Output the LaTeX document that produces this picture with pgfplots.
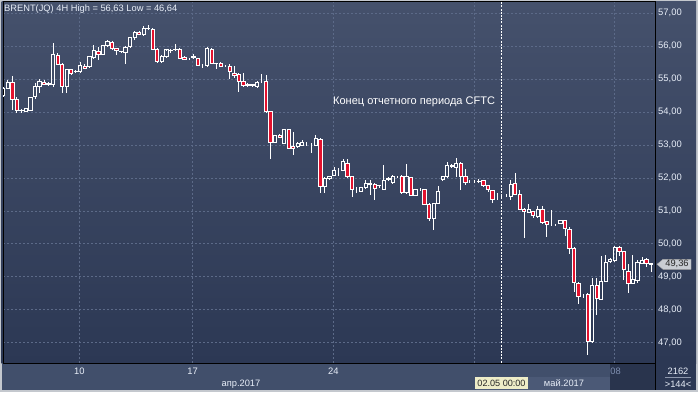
\documentclass[border=0pt]{standalone}
\usepackage{pgfplots}
\pgfplotsset{compat=1.18}
\usepackage{pgfplotstable}
\usepackage{fontspec}
\setmainfont{Liberation Sans}
\definecolor{bgtop}{HTML}{45516C}
\definecolor{bgbot}{HTML}{2C3854}
\definecolor{band}{HTML}{414F6B}
\definecolor{bandlight}{HTML}{4B5976}
\definecolor{boxdark}{HTML}{29344D}
\definecolor{gridc}{HTML}{5C6A88}
\definecolor{candred}{HTML}{E3122E}
\definecolor{labc}{HTML}{E8EEF8}
\definecolor{framec}{HTML}{C4C8CE}
\definecolor{tagc}{HTML}{C9CDD3}
\definecolor{yellowbox}{HTML}{EEEDC8}
\definecolor{dimlab}{HTML}{7F8FB0}

\pgfplotstableread{
i o h l c
0 54.49 54.75 54.45 54.73
1 54.72 54.98 54.70 54.90
2 54.90 55.10 54.06 54.37
3 54.37 54.45 53.97 54.06
4 54.06 54.10 53.97 54.05
5 54.03 54.12 54.00 54.10
6 54.06 54.47 54.03 54.45
7 54.47 54.87 54.40 54.79
8 54.79 55.00 54.59 54.92
9 54.91 54.97 54.82 54.85
10 54.85 54.90 54.80 54.88
11 54.84 56.09 54.77 55.75
12 55.73 55.80 55.42 55.45
13 55.45 55.50 54.59 54.77
14 54.77 55.30 54.57 55.28
15 55.28 55.30 55.12 55.18
16 55.22 55.27 55.20 55.24
17 55.23 55.51 55.22 55.43
18 55.40 55.45 55.30 55.33
19 55.38 55.70 55.33 55.68
20 55.67 56.04 55.60 55.86
21 55.85 55.99 55.58 55.76
22 55.76 56.04 55.72 56.01
23 56.01 56.18 55.98 56.14
24 56.12 56.15 55.90 55.94
25 55.92 55.95 55.73 55.86
26 55.84 55.86 55.80 55.83
27 55.82 56.00 55.45 55.97
28 55.99 56.28 55.95 56.26
29 56.26 56.45 56.20 56.41
30 56.43 56.45 56.35 56.37
31 56.36 56.62 56.32 56.54
32 56.54 56.63 56.50 56.53
33 56.51 56.55 55.89 55.91
34 55.91 55.95 55.50 55.53
35 55.53 55.73 55.50 55.70
36 55.68 55.90 55.66 55.89
37 55.86 55.92 55.80 55.87
38 55.89 56.07 55.85 55.90
39 55.91 55.95 55.60 55.63
40 55.65 55.70 55.57 55.60
41 55.61 55.65 55.57 55.61
42 55.65 55.76 55.62 55.68
43 55.63 55.65 55.40 55.43
44 55.43 55.45 55.35 55.43
45 55.43 55.97 55.38 55.94
46 55.91 55.96 55.45 55.48
47 55.48 55.50 55.30 55.47
48 55.48 55.52 55.37 55.40
49 55.41 55.43 55.36 55.41
50 55.38 55.46 55.00 55.23
51 55.18 55.40 55.05 55.10
52 55.13 55.20 54.60 54.92
53 54.92 55.20 54.75 54.82
54 54.84 54.87 54.77 54.80
55 54.84 54.86 54.75 54.80
56 54.77 54.95 54.75 54.91
57 54.92 55.16 54.88 54.92
58 54.92 55.13 53.98 54.01
59 54.01 54.03 52.57 53.08
60 53.08 53.32 53.05 53.30
61 53.30 53.35 53.20 53.23
62 53.05 53.50 53.02 53.46
63 53.46 53.50 52.88 52.90
64 52.95 53.40 52.70 52.90
65 52.95 53.08 52.92 53.05
66 53.00 53.15 52.97 53.07
67 53.05 53.10 52.98 53.05
68 53.02 53.05 52.77 53.02
69 53.00 53.31 52.97 53.20
70 53.18 53.20 51.55 51.73
71 51.73 52.02 51.55 51.99
72 51.97 52.06 51.95 52.04
73 52.09 52.34 52.05 52.24
74 52.24 52.30 52.07 52.24
75 52.24 52.57 52.20 52.49
76 52.44 52.57 52.00 52.04
77 52.04 52.06 51.41 51.64
78 51.58 51.73 51.53 51.58
79 51.60 51.72 51.56 51.70
80 51.70 51.94 51.68 51.84
81 51.84 51.94 51.48 51.79
82 51.81 51.86 51.33 51.69
83 51.76 51.80 51.70 51.78
84 51.66 52.39 51.63 51.92
85 51.95 52.02 51.92 51.99
86 51.86 52.08 51.84 52.06
87 52.04 52.07 52.00 52.04
88 52.06 52.08 51.52 51.55
89 51.55 52.44 51.52 52.04
90 52.02 52.04 51.45 51.48
91 51.48 51.67 51.45 51.64
92 51.66 51.70 51.60 51.66
93 51.64 51.66 51.18 51.21
94 51.21 51.23 50.70 50.78
95 50.78 51.25 50.42 51.23
96 51.23 51.76 51.20 51.60
97 51.95 52.06 51.94 52.05
98 52.04 52.49 52.00 52.39
99 52.39 52.42 52.30 52.34
100 52.32 52.60 52.02 52.44
101 52.44 52.49 51.64 52.04
102 52.04 52.26 51.80 51.87
103 51.89 51.93 51.85 51.89
104 51.89 51.94 51.85 51.89
105 51.90 51.96 51.84 51.88
106 51.92 51.95 51.73 51.76
107 51.76 51.78 51.56 51.64
108 51.61 51.63 51.23 51.35
109 51.39 51.55 51.33 51.39
110 51.43 51.47 51.39 51.43
111 51.46 51.52 51.42 51.46
112 51.45 51.94 51.33 51.81
113 51.84 52.14 51.48 51.50
114 51.50 51.65 51.02 51.05
115 51.05 51.08 50.17 50.98
116 50.96 51.21 50.93 51.03
117 50.98 51.00 50.80 50.85
118 50.83 51.15 50.80 51.03
119 51.03 51.15 50.62 50.64
120 50.67 50.70 50.20 50.60
121 50.57 51.03 50.53 50.57
122 50.57 50.60 50.53 50.57
123 50.62 50.72 50.60 50.70
124 50.70 50.72 50.24 50.47
125 50.44 50.50 49.68 49.87
126 49.87 49.90 48.55 48.83
127 48.80 48.83 48.18 48.40
128 48.42 48.47 48.35 48.42
129 48.45 48.52 46.64 47.03
130 47.03 48.95 46.98 48.75
131 48.75 48.95 47.84 48.35
132 48.32 49.63 48.30 48.87
133 48.87 49.65 48.85 49.45
134 49.46 49.56 49.42 49.53
135 49.49 49.93 49.47 49.90
136 49.90 49.93 49.62 49.76
137 49.76 49.78 48.90 49.21
138 49.16 49.40 48.50 48.80
139 48.80 49.66 48.78 48.93
140 48.88 49.50 48.82 49.44
141 49.41 49.59 49.39 49.51
142 49.54 49.58 49.29 49.39
143 49.39 49.41 49.16 49.36
}\candles

\begin{document}
\begin{tikzpicture}[x=1pt,y=1pt]
% window and panel backgrounds
\fill[framec] (-3,-29) rectangle (695,363);
\shade[top color=bgtop, bottom color=bgbot] (-1.5,0) rectangle (693,361.5);
\fill[band] (-1.5,-27) rectangle (652,0);
\fill[bgbot] (652,-27) rectangle (693,0);
\fill[bandlight] (473,-27) rectangle (607,-13.7);
\fill[boxdark] (607,-27) rectangle (652,0);

\begin{axis}[
  at={(0pt,0pt)}, anchor=south west,
  scale only axis, width=652pt, height=361.5pt,
  xmin=-0.07, xmax=143.86, ymin=46.384, ymax=57.358,
  axis line style={black, line width=1pt},
  ytick={47,48,...,57},
  xtick={16.8,41.8,72.85,103.97,134.9},
  xticklabels={10,17,24,{},{}},
  major tick length=0pt,
  xmajorgrids, ymajorgrids,
  grid style={gridc, line width=0.8pt, dash pattern=on 2pt off 2pt},
  yticklabel pos=right,
  yticklabel style={anchor=west, inner sep=0pt, xshift=3pt,
    font=\fontsize{9.4}{10}\selectfont, text=labc,
    /pgf/number format/fixed, /pgf/number format/fixed zerofill,
    /pgf/number format/precision=2, /pgf/number format/use comma,
    /pgf/number format/assume math mode=true},
  xticklabel style={anchor=base, inner sep=0pt, yshift=-11pt,
    font=\fontsize{9.4}{10}\selectfont, text=labc,
    /pgf/number format/assume math mode=true},
  clip=true,
]
\addplot[white, line width=0.9pt, dash pattern=on 2pt off 1.2pt] coordinates {(110.0,46.3) (110.0,57.4)};
% lower wicks
\addplot[draw=none, mark=none,
  error bars/.cd, y dir=minus, y explicit, error mark=none,
  error bar style={draw=white, line width=1pt, solid}]
  table[x=i, y expr={min(\thisrow{o},\thisrow{c})},
        y error minus expr={min(\thisrow{o},\thisrow{c})-\thisrow{l}}] {\candles};
% upper wicks
\addplot[draw=none, mark=none,
  error bars/.cd, y dir=plus, y explicit, error mark=none,
  error bar style={draw=white, line width=1pt, solid}]
  table[x=i, y expr={max(\thisrow{o},\thisrow{c})},
        y error plus expr={\thisrow{h}-max(\thisrow{o},\thisrow{c})}] {\candles};
\end{axis}

\begin{axis}[
  at={(0pt,0pt)}, anchor=south west,
  scale only axis, width=652pt, height=361.5pt,
  xmin=-0.07, xmax=143.86, ymin=46.384, ymax=57.358,
  hide axis, ybar stacked, bar width=3.3pt, clip=true,
]
\addplot[draw=none, fill=none] table[x=i, y expr={min(\thisrow{o},\thisrow{c})}] {\candles};
\addplot[draw=white, fill=none, line width=1pt] table[x=i, y expr={max(\thisrow{c}-\thisrow{o},0)}] {\candles};
\addplot[draw=white, fill=candred, line width=1pt] table[x=i, y expr={max(\thisrow{o}-\thisrow{c},0)}] {\candles};
\end{axis}

% right axis separator
\draw[black, line width=1pt] (652,361.5) -- (652,-27);

% texts
\node[anchor=base west, inner sep=0pt, text=labc, font=\fontsize{9.3}{10}\selectfont] at (1,352) {BRENT(JQ) 4H High = 56,63 Low = 46,64};
\node[anchor=base west, inner sep=0pt, text=white, font=\fontsize{11}{12}\selectfont] at (330,258.5) {Конец отчетного периода CFTC};
\node[anchor=base, inner sep=0pt, text=labc, font=\fontsize{9.3}{10}\selectfont] at (238,-23) {апр.2017};
\node[anchor=base, inner sep=0pt, text=labc, font=\fontsize{9.3}{10}\selectfont] at (561,-23) {май.2017};
\fill[yellowbox] (472,-25.5) rectangle (525,-13.7);
\node[anchor=base, inner sep=0pt, text=black!85, font=\fontsize{9.1}{10}\selectfont] at (498.5,-23) {02.05 00:00};
\node[anchor=base, inner sep=0pt, text=dimlab, font=\fontsize{9.3}{10}\selectfont] at (612.5,-11) {08};
\node[anchor=base, inner sep=0pt, text=labc, font=\fontsize{9.3}{10}\selectfont] at (675,-11) {2162};
\draw[gridc!70!white, line width=0.6pt] (662,-14.2) -- (688,-14.2);
\node[anchor=base, inner sep=0pt, text=labc, font=\fontsize{9.3}{10}\selectfont] at (675,-24.5) {>144<};
% last price tag
\fill[tagc, draw=gray!70] (654,98.7) -- (660,103.7) -- (688,103.7) -- (688,93.7) -- (660,93.7) -- cycle;
\node[anchor=center, inner sep=0pt, text=black!85, font=\fontsize{9.3}{10}\selectfont] at (674,98.7) {49,36};
\end{tikzpicture}
\end{document}
